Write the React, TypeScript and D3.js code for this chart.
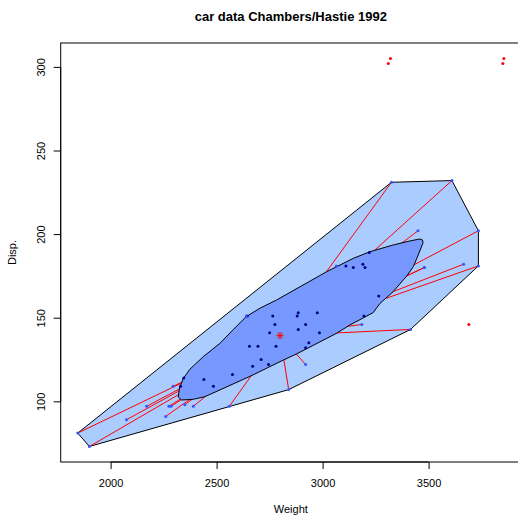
import React, { useEffect, useRef } from "react";
import * as d3 from "d3";

// car.test.frame (Chambers/Hastie 1992): Weight and Disp.
const weight = [
  2560, 2345, 1845, 2260, 2440, 2285, 2275, 2350, 2295, 1900, 2390, 2075, 2330,
  3320, 2885, 3310, 2695, 2170, 2710, 2775, 2840, 2485, 2670, 2640, 2655, 3065,
  2750, 2920, 2780, 2745, 3110, 2920, 2645, 2575, 2935, 2920, 2985, 3265, 2880,
  2975, 3450, 3145, 3190, 3610, 2885, 3480, 3200, 2765, 3220, 3480, 3325, 3855,
  3850, 3195, 3735, 3665, 3735, 3415, 3185, 3690,
];
const disp = [
  97, 114, 81, 91, 113, 97, 97, 98, 109, 73, 97, 89, 109,
  305, 153, 302, 133, 97, 125, 146, 107, 109, 121, 151, 133, 181,
  141, 132, 133, 122, 181, 146, 151, 116, 135, 122, 141, 163, 151,
  153, 202, 180, 182, 232, 143, 180, 180, 151, 189, 180, 231, 305,
  302, 151, 202, 182, 181, 143, 146, 146,
];

// bag outline, in data units
const bagWeight = [
  2319, 2325, 2343, 2374, 2437, 2516, 2577, 2639, 2705, 2783, 3019, 3145,
  3224, 3333, 3412, 3459, 3471, 3474, 3451, 3428, 3397, 3333, 3271, 3239,
  3192, 3129, 3066, 2878, 2815, 2657, 2445, 2390, 2335,
];
const bagDisp = [
  102.6, 108.0, 113.7, 119.2, 126.7, 134.7, 142.7, 150.6, 155.7, 160.6, 177.5,
  185.5, 189.5, 193.5, 195.9, 197.1, 196.5, 194.9, 187.5, 180.5, 175.0, 165.6,
  158.6, 153.1, 149.9, 145.7, 140.7, 128.4, 124.7, 114.9, 102.8, 101.2, 100.8,
];
const center = [2799, 139.3];

const xTicks = [2000, 2500, 3000, 3500];
const yTicks = [100, 150, 200, 250, 300];

const W = 518;
const H = 520;
const left = 60.7;
const right = 520.9;
const top = 43;
const bottom = 462;
const font = "'Liberation Sans', Arial, Helvetica, sans-serif";

export default function App() {
  const xAxisRef = useRef<SVGGElement>(null);
  const yAxisRef = useRef<SVGGElement>(null);

  const x = d3.scaleLinear().domain([1764.6, 3935.4]).range([left, right]);
  const y = d3.scaleLinear().domain([63.72, 314.28]).range([bottom, top]);

  const pts = weight.map((w, i) => [w, disp[i]] as [number, number]);
  const bag = bagWeight.map((w, i) => [w, bagDisp[i]] as [number, number]);
  // fence = bag blown up by 3 around the center
  const fence = bag.map(
    ([w, d]) => [center[0] + 3 * (w - center[0]), center[1] + 3 * (d - center[1])] as [number, number]
  );
  const outliers = pts.filter((p) => !d3.polygonContains(fence, p));
  const inner = pts.filter((p) => d3.polygonContains(fence, p));
  const loopHull = d3.polygonHull(inner) || [];
  const inBag = inner.filter((p) => d3.polygonContains(bag, p));
  const inLoop = inner.filter((p) => !d3.polygonContains(bag, p));

  const line = d3
    .line<[number, number]>()
    .x((d) => x(d[0]))
    .y((d) => y(d[1]))
    .curve(d3.curveLinearClosed);

  useEffect(() => {
    const gx = d3.select(xAxisRef.current);
    gx.selectAll("*").remove();
    gx.call(d3.axisBottom(x).tickValues(xTicks).tickSize(7).tickFormat(d3.format("d")));
    gx.select(".domain").remove();
    gx.selectAll(".tick line").attr("stroke", "#000");
    gx.selectAll(".tick text")
      .attr("y", 25.3)
      .attr("dy", 0)
      .attr("fill", "#000")
      .attr("font-size", 11)
      .attr("font-family", font);
    gx.append("line")
      .attr("x1", x(xTicks[0]))
      .attr("x2", x(xTicks[xTicks.length - 1]))
      .attr("stroke", "#000");

    const gy = d3.select(yAxisRef.current);
    gy.selectAll("*").remove();
    gy.call(d3.axisLeft(y).tickValues(yTicks).tickSize(7).tickFormat(d3.format("d")));
    gy.select(".domain").remove();
    gy.selectAll(".tick line").attr("stroke", "#000");
    gy.selectAll(".tick text")
      .attr("transform", "rotate(-90)")
      .attr("x", 0)
      .attr("y", -15.5)
      .attr("dy", 0)
      .attr("text-anchor", "middle")
      .attr("fill", "#000")
      .attr("font-size", 11)
      .attr("font-family", font);
    gy.append("line")
      .attr("y1", y(yTicks[0]))
      .attr("y2", y(yTicks[yTicks.length - 1]))
      .attr("stroke", "#000");
  }, []);

  const cx = x(center[0]);
  const cy = y(center[1]);
  const s = 3.6;

  return (
    <svg
      width={W}
      height={H}
      style={{ position: "absolute", left: 0, top: 0, background: "#fff" }}
    >
      <defs>
        <clipPath id="plot">
          <rect x={left} y={top} width={right - left} height={bottom - top} />
        </clipPath>
      </defs>
      <text
        x={(left + right) / 2}
        y={21}
        textAnchor="middle"
        fontFamily={font}
        fontWeight="bold"
        fontSize={13}
      >
        car data Chambers/Hastie 1992
      </text>

      <g clipPath="url(#plot)">
        {/* loop */}
        <path d={line(loopHull as [number, number][]) || ""} fill="#aaccff" stroke="#000" strokeWidth={1} />
        {/* whiskers */}
        {inLoop.map((p, i) => (
          <line key={"w" + i} x1={x(p[0])} y1={y(p[1])} x2={cx} y2={cy} stroke="red" strokeWidth={1} />
        ))}
        {/* bag */}
        <path d={line(bag) || ""} fill="#7799ff" stroke="#000" strokeWidth={1} />
        {inBag.map((p, i) => (
          <circle key={"b" + i} cx={x(p[0])} cy={y(p[1])} r={1.5} fill="#000088" />
        ))}
        {inLoop.map((p, i) => (
          <circle key={"l" + i} cx={x(p[0])} cy={y(p[1])} r={1.5} fill="#3355ff" />
        ))}
        {outliers.map((p, i) => (
          <circle key={"o" + i} cx={x(p[0])} cy={y(p[1])} r={1.5} fill="red" />
        ))}
        {/* center */}
        <g stroke="red" strokeWidth={1}>
          <line x1={cx - s} y1={cy} x2={cx + s} y2={cy} />
          <line x1={cx} y1={cy - s} x2={cx} y2={cy + s} />
          <line x1={cx - s * 0.75} y1={cy - s * 0.75} x2={cx + s * 0.75} y2={cy + s * 0.75} />
          <line x1={cx - s * 0.75} y1={cy + s * 0.75} x2={cx + s * 0.75} y2={cy - s * 0.75} />
        </g>
      </g>

      <rect x={left} y={top} width={right - left} height={bottom - top} fill="none" stroke="#000" strokeWidth={1} />
      <g ref={xAxisRef} transform={`translate(0,${bottom})`} />
      <g ref={yAxisRef} transform={`translate(${left},0)`} />

      <text x={(left + right) / 2} y={513} textAnchor="middle" fontFamily={font} fontSize={11}>
        Weight
      </text>
      <text
        transform={`translate(15.5,${(top + bottom) / 2}) rotate(-90)`}
        textAnchor="middle"
        fontFamily={font}
        fontSize={11}
      >
        Disp.
      </text>
    </svg>
  );
}
